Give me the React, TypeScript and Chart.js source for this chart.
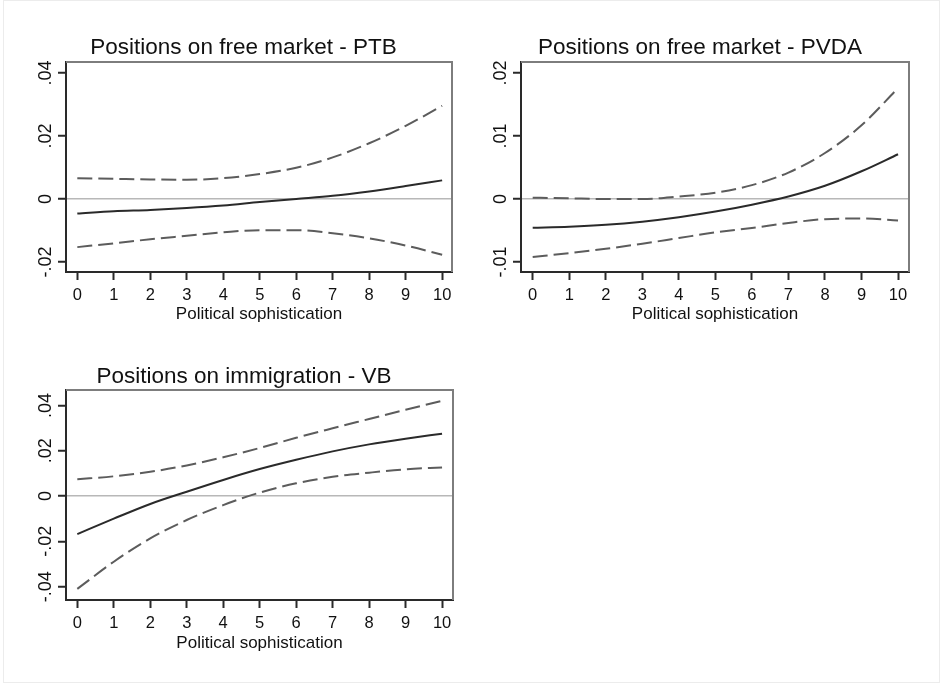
import React, { useEffect, useRef } from 'react';
import { Chart, registerables } from 'chart.js';

Chart.register(...registerables);

const FONT = '"Liberation Sans", Arial, Helvetica, sans-serif';

const xValues = [0, 1, 2, 3, 4, 5, 6, 7, 8, 9, 10];
const xTickValues = [0, 1, 2, 3, 4, 5, 6, 7, 8, 9, 10];
const xAxisTitle = 'Political sophistication';

const ptbTitle = 'Positions on free market - PTB';
const ptbEstimate = [-0.0046, -0.0039, -0.0035, -0.0029, -0.0021, -0.001, 0.0, 0.001, 0.0024, 0.0041, 0.0059];
const ptbUpper = [0.0066, 0.0064, 0.0062, 0.0061, 0.0066, 0.0079, 0.0099, 0.0132, 0.0177, 0.0232, 0.0296];
const ptbLower = [-0.0153, -0.0141, -0.0128, -0.0117, -0.0106, -0.0099, -0.0099, -0.0109, -0.0125, -0.0148, -0.0177];
const ptbYTicks = [-0.02, 0, 0.02, 0.04];
const ptbYLabels = ['-.02', '0', '.02', '.04'];

const pvdaTitle = 'Positions on free market - PVDA';
const pvdaEstimate = [-0.00455, -0.0044, -0.0041, -0.0036, -0.0029, -0.002, -0.0009, 0.0004, 0.0021, 0.0044, 0.0071];
const pvdaUpper = [0.0002, 0.0001, 0.0, 0.0, 0.0004, 0.001, 0.0022, 0.0042, 0.0073, 0.0117, 0.0176];
const pvdaLower = [-0.0092, -0.0086, -0.0079, -0.0071, -0.0062, -0.0053, -0.0046, -0.0038, -0.0032, -0.0031, -0.0034];
const pvdaYTicks = [-0.01, 0, 0.01, 0.02];
const pvdaYLabels = ['-.01', '0', '.01', '.02'];

const vbTitle = 'Positions on immigration - VB';
const vbEstimate = [-0.0168, -0.01, -0.0035, 0.0019, 0.0071, 0.0119, 0.016, 0.0197, 0.0228, 0.0253, 0.0275];
const vbUpper = [0.0074, 0.0087, 0.0107, 0.0135, 0.0171, 0.0212, 0.0257, 0.0299, 0.034, 0.0381, 0.042];
const vbLower = [-0.041, -0.029, -0.0187, -0.0106, -0.004, 0.0015, 0.0056, 0.0085, 0.0103, 0.0118, 0.0126];
const vbYTicks = [-0.04, -0.02, 0, 0.02, 0.04];
const vbYLabels = ['-.04', '-.02', '0', '.02', '.04'];

type PanelProps = {
  left: number;
  top: number;
  width: number;
  height: number;
  yAxisWidth: number;
  rightGap: number;
  xAxisHeight: number;
  titleTop: number;
  titleBottom: number;
  axisTitleBottom: number;
  yLabelPad: number;
  title: string;
  estimate: number[];
  upper: number[];
  lower: number[];
  yTicks: number[];
  yLabels: string[];
  xMin: number;
  xMax: number;
  yMin: number;
  yMax: number;
};

function Panel(p: PanelProps) {
  const ref = useRef<HTMLCanvasElement>(null);
  useEffect(() => {
    if (!ref.current) return;
    const mk = (arr: number[]) => xValues.map((x, i) => ({ x, y: arr[i] }));
    const framePlugin = {
      id: 'frameTopRight',
      afterDatasetsDraw(chart: any) {
        const { ctx, chartArea: a } = chart;
        ctx.save();
        ctx.strokeStyle = '#7d7d7d';
        ctx.lineWidth = 2;
        ctx.beginPath();
        ctx.moveTo(a.left, a.top);
        ctx.lineTo(a.right, a.top);
        ctx.lineTo(a.right, a.bottom);
        ctx.stroke();
        ctx.restore();
      },
    };
    const lineBase = {
      pointRadius: 0,
      borderWidth: 2,
      cubicInterpolationMode: 'monotone' as const,
      xAxisID: 'x',
      yAxisID: 'y',
      fill: false,
    };
    const chart = new Chart(ref.current, {
      type: 'line',
      data: {
        datasets: [
          { ...lineBase, data: mk(p.estimate), borderColor: '#2a2a2a' },
          { ...lineBase, data: mk(p.upper), borderColor: '#5c5c5c', borderDash: [15, 6] },
          { ...lineBase, data: mk(p.lower), borderColor: '#5c5c5c', borderDash: [15, 6] },
        ],
      },
      options: {
        animation: false,
        responsive: false,
        devicePixelRatio: 1,
        layout: { padding: 0 },
        plugins: {
          legend: { display: false },
          tooltip: { enabled: false },
          title: {
            display: true,
            text: p.title,
            color: '#111',
            font: { family: FONT, size: 22.5, weight: 'normal' },
            padding: { top: p.titleTop, bottom: p.titleBottom },
          },
        },
        scales: {
          x: {
            type: 'linear',
            position: 'bottom',
            min: p.xMin,
            max: p.xMax,
            afterBuildTicks: (s: any) => {
              s.ticks = xTickValues.map((v) => ({ value: v }));
            },
            afterFit: (s: any) => {
              s.height = p.xAxisHeight;
            },
            grid: { drawOnChartArea: false, tickLength: 8, tickWidth: 2, tickColor: '#2a2a2a' },
            border: { color: '#2a2a2a', width: 2 },
            ticks: {
              autoSkip: false,
              maxRotation: 0,
              minRotation: 0,
              padding: 6,
              color: '#111',
              font: { family: FONT, size: 16.5 },
              callback: (v: any) => String(v),
            },
            title: {
              display: true,
              text: xAxisTitle,
              color: '#111',
              font: { family: FONT, size: 17 },
              padding: { top: 0, bottom: p.axisTitleBottom },
            },
          },
          y: {
            type: 'linear',
            position: 'left',
            min: p.yMin,
            max: p.yMax,
            afterBuildTicks: (s: any) => {
              s.ticks = p.yTicks.map((v) => ({ value: v }));
            },
            afterFit: (s: any) => {
              s.width = p.yAxisWidth;
            },
            grid: {
              color: (c: any) => (c.tick && c.tick.value === 0 ? '#b8b8b8' : 'rgba(0,0,0,0)'),
              lineWidth: 1.5,
              tickLength: 8,
              tickWidth: 2,
              tickColor: '#2a2a2a',
            },
            border: { color: '#2a2a2a', width: 2 },
            ticks: {
              autoSkip: false,
              minRotation: 90,
              maxRotation: 90,
              crossAlign: 'center',
              padding: p.yLabelPad,
              color: '#111',
              font: { family: FONT, size: 18 },
              callback: (v: any) => {
                const i = p.yTicks.findIndex((t) => Math.abs(t - v) < 1e-9);
                return i >= 0 ? p.yLabels[i] : '';
              },
            },
          },
          gap: {
            type: 'linear',
            position: 'right',
            display: true,
            grid: { display: false, drawTicks: false },
            border: { display: false },
            ticks: { display: false },
            afterFit: (s: any) => {
              s.width = p.rightGap;
            },
          },
        },
      } as any,
      plugins: [framePlugin],
    });
    return () => chart.destroy();
  }, []);
  return (
    <canvas
      ref={ref}
      width={p.width}
      height={p.height}
      style={{ position: 'absolute', left: p.left, top: p.top, width: p.width, height: p.height }}
    />
  );
}

export default function App() {
  return (
    <div style={{ position: 'absolute', left: 0, top: 0, width: 944, height: 687, background: '#fff', overflow: 'hidden' }}>
      <div
        style={{
          position: 'absolute',
          left: 3,
          top: 0,
          width: 935,
          height: 681,
          border: '1px solid #ececec',
        }}
      />
      <Panel
        left={0}
        top={0}
        width={487}
        height={340}
        yAxisWidth={66}
        rightGap={35}
        xAxisHeight={68}
        titleTop={34.5}
        titleBottom={0.5}
        axisTitleBottom={15}
        yLabelPad={-4}
        title={ptbTitle}
        estimate={ptbEstimate}
        upper={ptbUpper}
        lower={ptbLower}
        yTicks={ptbYTicks}
        yLabels={ptbYLabels}
        xMin={-0.31}
        xMax={10.27}
        yMin={-0.0232}
        yMax={0.0435}
      />
      <Panel
        left={456}
        top={0}
        width={488}
        height={340}
        yAxisWidth={65}
        rightGap={35}
        xAxisHeight={68}
        titleTop={34.5}
        titleBottom={0.5}
        axisTitleBottom={15}
        yLabelPad={-4}
        title={pvdaTitle}
        estimate={pvdaEstimate}
        upper={pvdaUpper}
        lower={pvdaLower}
        yTicks={pvdaYTicks}
        yLabels={pvdaYLabels}
        xMin={-0.32}
        xMax={10.3}
        yMin={-0.01159}
        yMax={0.02175}
      />
      <Panel
        left={0}
        top={340}
        width={488}
        height={347}
        yAxisWidth={66}
        rightGap={35}
        xAxisHeight={87}
        titleTop={22.8}
        titleBottom={0.2}
        axisTitleBottom={33.8}
        yLabelPad={-4}
        title={vbTitle}
        estimate={vbEstimate}
        upper={vbUpper}
        lower={vbLower}
        yTicks={vbYTicks}
        yLabels={vbYLabels}
        xMin={-0.31}
        xMax={10.3}
        yMin={-0.0459}
        yMax={0.0468}
      />
    </div>
  );
}
